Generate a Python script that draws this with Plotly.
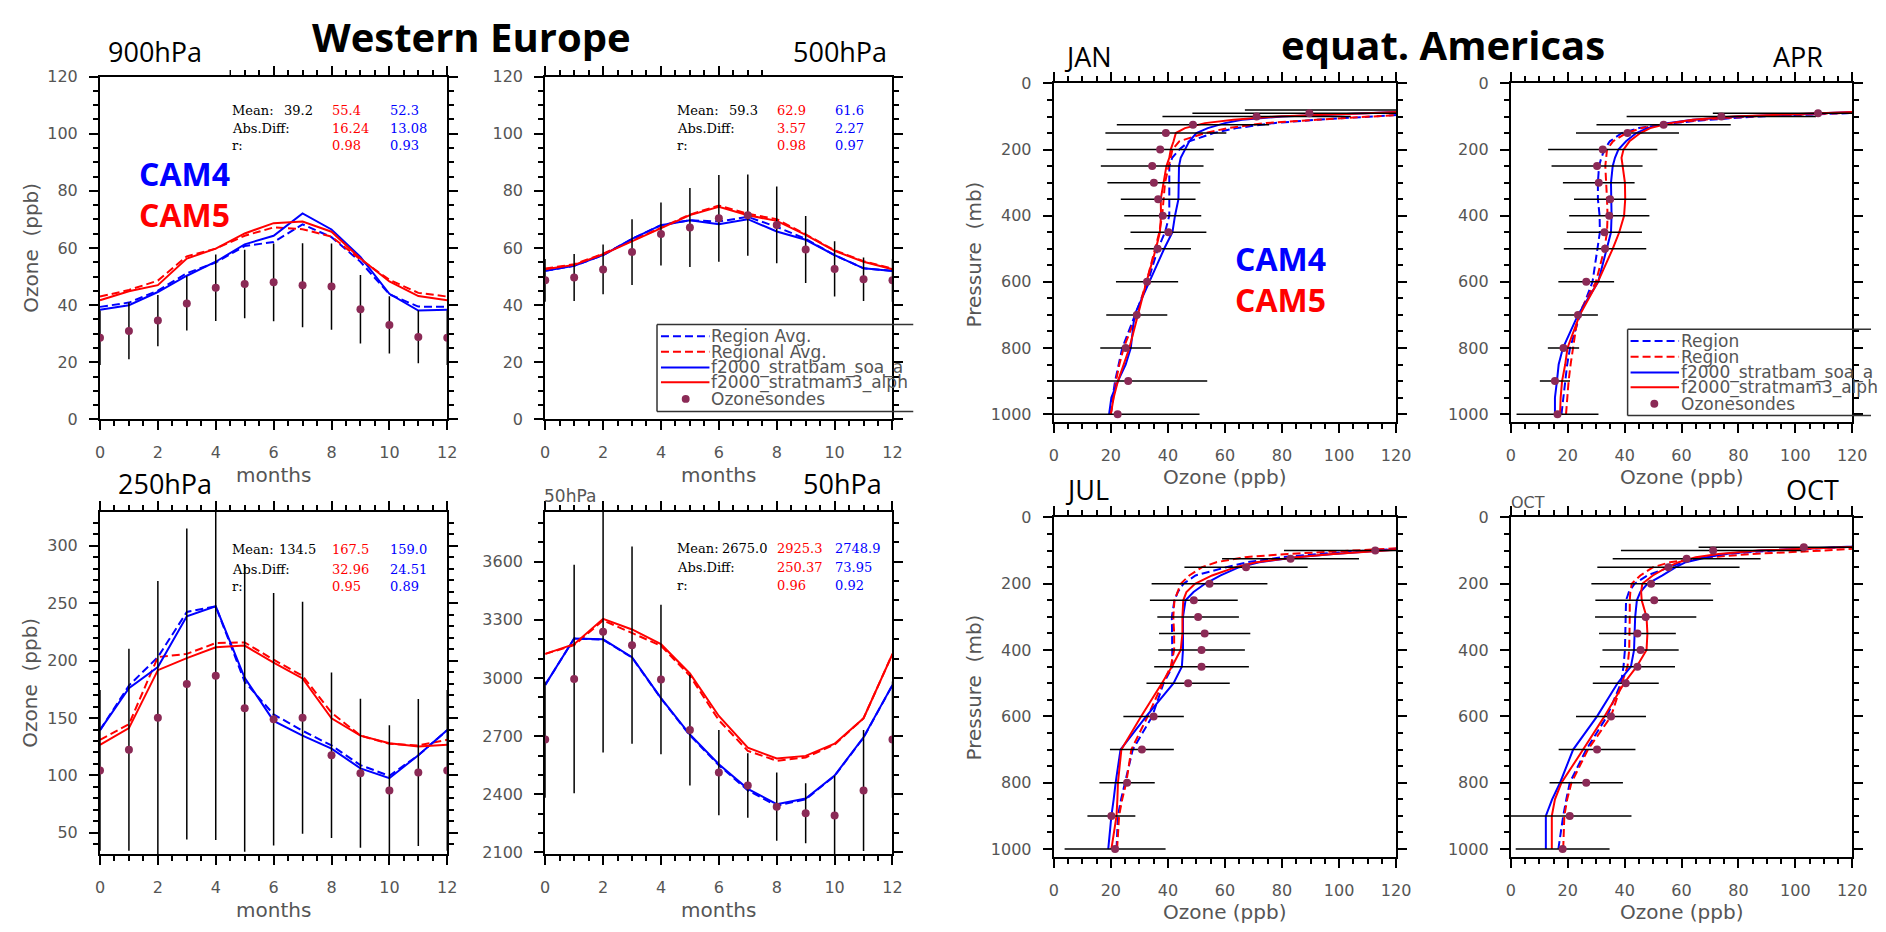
import plotly.graph_objects as go

W, H = 1886, 932

# ---------------- data: Western Europe monthly cycles ----------------
MONTHS = list(range(13))

O3_900_OBS = [28.6, 31.0, 34.6, 40.6, 46.1, 47.4, 48.0, 47.0, 46.5, 38.6, 33.1, 28.9, 28.6]
O3_900_SD = [9.5, 9.9, 9.0, 9.5, 11.6, 12.0, 13.6, 14.7, 15.1, 12.0, 10.0, 9.2, 9.5]
O3_900_CAM5 = [41.7, 44.9, 47.0, 56.3, 59.8, 65.1, 68.7, 69.3, 65.7, 56.3, 48.3, 43.2, 41.7]
O3_900_CAM5_REG = [43.0, 45.3, 48.6, 57.1, 59.8, 64.3, 67.2, 66.6, 64.0, 56.0, 48.9, 44.3, 43.0]
O3_900_CAM4 = [38.4, 40.0, 44.6, 50.3, 55.2, 61.3, 64.3, 72.1, 66.5, 56.9, 44.0, 38.1, 38.4]
O3_900_CAM4_REG = [39.4, 40.9, 45.1, 51.2, 54.9, 60.7, 62.1, 68.3, 63.8, 55.2, 43.8, 39.5, 39.4]

O3_500_OBS = [48.7, 49.7, 52.5, 58.6, 64.9, 67.2, 70.4, 71.5, 68.1, 59.5, 52.7, 49.1, 48.7]
O3_500_SD = [7.5, 8.2, 8.7, 11.5, 11.0, 13.8, 15.2, 14.2, 13.4, 11.7, 9.7, 7.6, 7.5]
O3_500_CAM5 = [52.6, 54.1, 57.8, 62.4, 67.0, 71.5, 74.4, 71.5, 69.5, 64.6, 59.0, 55.2, 52.6]
O3_500_CAM5_REG = [52.8, 54.3, 58.0, 62.6, 67.2, 71.7, 74.9, 72.0, 70.1, 64.8, 59.2, 55.4, 52.8]
O3_500_CAM4 = [52.0, 53.8, 57.5, 63.2, 68.0, 69.7, 68.3, 70.1, 65.8, 62.9, 57.5, 52.9, 52.0]
O3_500_CAM4_REG = [52.0, 53.8, 57.5, 63.2, 68.0, 69.7, 69.3, 70.9, 67.4, 63.2, 57.5, 52.9, 52.0]

O3_250_OBS = [104.4, 122.4, 150.3, 179.7, 186.8, 158.6, 148.9, 150.3, 117.6, 101.9, 86.8, 102.5, 104.4]
O3_250_SD = [70, 88, 119, 135.5, 143, 125, 110, 101, 72, 65, 57, 64, 70]
O3_250_CAM5 = [126.7, 141.2, 191.7, 202.2, 211.6, 213.1, 198.2, 184.5, 149.8, 134.7, 128.1, 125.3, 126.7]
O3_250_CAM5_REG = [131.0, 144.6, 203.1, 205.9, 215.3, 215.9, 200.8, 186.8, 154.6, 134.7, 127.5, 126.1, 131.0]
O3_250_CAM4 = [139.5, 176.0, 194.5, 238.7, 247.3, 185.1, 147.5, 134.7, 123.3, 106.2, 97.6, 117.6, 139.5]
O3_250_CAM4_REG = [139.5, 178.3, 203.1, 242.4, 247.3, 181.7, 153.2, 138.9, 126.1, 109.0, 99.6, 117.6, 139.5]

O3_50_OBS = [2682, 2994, 3238, 3169, 2992, 2731, 2512, 2445, 2336, 2302, 2290, 2420, 2682]
O3_50_SD = [300, 589, 623, 509, 385, 286, 220, 166, 176, 155, 205, 312, 300]
O3_50_CAM5 = [3124, 3174, 3305, 3250, 3174, 3023, 2804, 2640, 2585, 2598, 2661, 2792, 3124]
O3_50_CAM5_REG = [3124, 3169, 3297, 3233, 3166, 3011, 2782, 2624, 2573, 2590, 2656, 2792, 3124]
O3_50_CAM4 = [2964, 3203, 3199, 3107, 2896, 2708, 2555, 2428, 2349, 2378, 2497, 2694, 2964]
O3_50_CAM4_REG = [2964, 3203, 3197, 3105, 2894, 2704, 2550, 2420, 2341, 2374, 2495, 2692, 2964]

# statistics text (obs mean, CAM5, CAM4)
STAT_MEAN = [("39.2", "55.4", "52.3"), ("59.3", "62.9", "61.6"), ("134.5", "167.5", "159.0"), ("2675.0", "2925.3", "2748.9")]
STAT_ABSDIFF = [("16.24", "13.08"), ("3.57", "2.27"), ("32.96", "24.51"), ("250.37", "73.95")]
STAT_R = [("0.98", "0.93"), ("0.98", "0.97"), ("0.95", "0.89"), ("0.96", "0.92")]

# ---------------- data: equatorial Americas profiles ----------------
P_MODEL = [1000, 950, 900, 850, 800, 700, 600, 500, 450, 400, 350, 300, 250, 225, 200, 175, 150, 135, 120, 110, 100, 90, 80]

JAN_CAM4 = [19.4, 20.2, 22.5, 25.2, 27.0, 28.3, 33.5, 38.7, 41.6, 42.5, 43.7, 43.9, 43.9, 44.5, 46.0, 47.5, 50.0, 54, 60, 66, 80, 110, 140]
JAN_CAM4_REG = [20.0, 20.6, 21.5, 22.8, 24.0, 28.5, 33.0, 36.5, 39.0, 40.5, 40.5, 40.5, 40.5, 41.5, 44.0, 47.5, 56, 64, 77, 92, 113, 135, 150]
JAN_CAM5 = [20.0, 21.0, 22.5, 24.5, 26.5, 29.5, 32.5, 35.8, 37.2, 37.6, 37.5, 38.5, 39.5, 40.5, 41.0, 42.0, 42.8, 46, 53, 63, 78, 110, 140]
JAN_CAM5_REG = [20.0, 20.8, 21.8, 23.0, 24.5, 29.0, 32.5, 35.5, 37.0, 38.0, 38.5, 39.0, 40.3, 41.0, 41.6, 44.0, 53, 61, 74, 92, 117, 135, 150]

APR_CAM4 = [15.5, 15.5, 16.2, 16.8, 18.3, 23.6, 30.7, 33.8, 35.2, 35.4, 35.2, 35.2, 35.8, 36.6, 37.8, 40.5, 44.1, 48, 55, 64, 80, 112, 140]
APR_CAM4_REG = [17.8, 18.4, 19.0, 19.8, 20.8, 24.3, 28.7, 30.6, 31.3, 31.2, 30.6, 30.6, 31.0, 31.8, 32.9, 34.8, 39.0, 45, 57, 69, 87, 118, 140]
APR_CAM5 = [17.3, 17.5, 18.0, 19.1, 19.9, 24.2, 30.6, 35.8, 38.1, 39.8, 40.2, 40.1, 39.3, 38.9, 39.6, 41.7, 45.5, 49, 56, 64, 78, 110, 140]
APR_CAM5_REG = [19.4, 19.8, 20.3, 21.0, 21.8, 23.6, 29.9, 32.9, 33.8, 34.0, 33.8, 33.5, 33.2, 33.5, 33.8, 35.9, 40.6, 46, 56, 67, 84, 115, 140]

JUL_CAM4 = [19.1, 19.6, 20.2, 21.0, 21.7, 23.4, 32.4, 42.0, 44.9, 45.3, 45.3, 45.3, 46.2, 49, 53, 58.5, 65, 72, 85, 98, 115, 135, 150]
JUL_CAM4_REG = [22.0, 22.2, 22.5, 23.6, 24.9, 27.7, 34.5, 38.5, 41.6, 41.6, 41.6, 41.4, 42.3, 43.5, 45.5, 49.7, 60.5, 68, 80, 93, 110, 130, 150]
JUL_CAM5 = [20.2, 21.0, 22.0, 22.3, 22.5, 23.7, 30.6, 37.9, 41.4, 44.5, 45.1, 45.1, 45.4, 46.5, 49.5, 55.5, 63.8, 71, 85, 98, 116, 135, 150]
JUL_CAM5_REG = [22.2, 22.5, 22.9, 24.0, 25.4, 27.2, 32.9, 38.2, 41.0, 42.2, 42.2, 41.9, 42.3, 43.4, 44.5, 47.5, 52, 57, 67, 82, 110, 135, 150]

OCT_CAM4 = [12.3, 12.3, 12.3, 14.5, 17.3, 21.9, 30.3, 37.5, 42.2, 43.3, 43.6, 43.7, 44.3, 45.5, 48.0, 53.3, 58, 61.5, 69, 75, 88, 118, 140]
OCT_CAM4_REG = [16.7, 17.5, 18.4, 19.5, 20.7, 26.5, 33.8, 38.7, 39.6, 40.1, 40.2, 40.2, 40.5, 41.5, 43.5, 48, 56, 60.5, 68, 76, 92, 120, 140]
OCT_CAM5 = [14.4, 14.4, 14.4, 15.5, 17.8, 25.4, 32.9, 39.8, 44.2, 47.7, 48.0, 47.7, 46.0, 45.8, 46.2, 49.9, 55, 59, 65, 73, 87, 117, 140]
OCT_CAM5_REG = [18.4, 18.6, 18.8, 19.8, 21.3, 27.1, 35.2, 39.0, 41.0, 41.6, 41.8, 41.8, 41.8, 42.0, 42.5, 45.5, 50, 56, 70, 85, 110, 130, 145]

P_OBS = [80, 90, 100, 125, 150, 200, 250, 300, 350, 400, 450, 500, 600, 700, 800, 900, 1000]
JAN_OBS = [150, 89.6, 71.1, 48.8, 39.3, 37.3, 34.5, 35.1, 36.6, 38.2, 40.2, 36.4, 32.7, 29.1, 25.2, 26.1, 22.4]
JAN_SD = [83, 41, 33, 26.7, 21.2, 18.8, 18.0, 16.3, 13.1, 13.5, 13.3, 11.7, 10.9, 10.7, 8.9, 27.7, 28.7]
APR_OBS = [None, 108, 74.0, 53.7, 41.0, 32.3, 30.3, 30.9, 34.9, 34.6, 32.9, 33.1, 26.5, 23.6, 18.5, 15.5, 16.4]
APR_SD = [None, 37, 33.3, 23.6, 18.1, 19.2, 16.0, 12.6, 12.7, 14.1, 13.2, 14.5, 9.8, 7.0, 5.5, 5.3, 14.4]
JUL_OBS = [None, None, 112.7, 83.0, 67.4, 54.6, 49.1, 50.6, 52.9, 51.8, 51.8, 47.1, 35.0, 30.9, 25.7, 20.2, 21.5]
JUL_SD = [None, None, 32, 24, 21.6, 20.3, 15.4, 14.3, 16.0, 15.2, 16.6, 14.6, 10.6, 11.2, 9.7, 8.4, 17.7]
OCT_OBS = [None, 103.0, 71.1, 61.8, 55.4, 49.3, 50.4, 47.4, 44.5, 45.6, 44.5, 40.4, 35.2, 30.3, 26.5, 20.7, 18.2]
OCT_SD = [None, 37, 32.4, 26, 25, 21, 20.7, 17.8, 13.5, 13.4, 13.2, 11.6, 12.3, 13.5, 12.9, 21.7, 16.5]

LEGEND_WE = ["Region Avg.", "Regional Avg.", "f2000_stratbam_soa_a", "f2000_stratmam3_alph", "Ozonesondes"]
LEGEND_EA = ["Region", "Region", "f2000_stratbam_soa_a", "f2000_stratmam3_alph", "Ozonesondes"]

# ---------------- styling ----------------
BLUE = "#0000ff"
RED = "#ff0000"
DOT = "#8b2a56"
GRAY = "#555555"
DASH = "8px,4px"
TICKFONT = dict(family="DejaVu Sans", size=16, color=GRAY)

# panel boxes in pixels: (left, right, top, bottom)
BOXES = [
    (96, 447, 69, 419), (546, 897, 69, 419),
    (96, 447, 513, 863), (546, 897, 513, 863),
    (1060, 1406, 76, 422), (1522, 1867, 76, 422),
    (1060, 1406, 519, 866), (1522, 1867, 519, 866),
]


def fx(px):
    return px / W


def fy(py):
    return 1 - py / H


fig = go.Figure()


def axname(i, kind):
    return f"{kind}{'' if i == 0 else i + 1}"


def add_line(i, x, y, color, dash):
    fig.add_trace(go.Scatter(x=x, y=y, mode="lines", xaxis=axname(i, "x"), yaxis=axname(i, "y"),
                             line=dict(color=color, width=2, dash=dash), showlegend=False, hoverinfo="skip"))


monthly = [
    (O3_900_OBS, O3_900_SD, O3_900_CAM4_REG, O3_900_CAM5_REG, O3_900_CAM4, O3_900_CAM5),
    (O3_500_OBS, O3_500_SD, O3_500_CAM4_REG, O3_500_CAM5_REG, O3_500_CAM4, O3_500_CAM5),
    (O3_250_OBS, O3_250_SD, O3_250_CAM4_REG, O3_250_CAM5_REG, O3_250_CAM4, O3_250_CAM5),
    (O3_50_OBS, O3_50_SD, O3_50_CAM4_REG, O3_50_CAM5_REG, O3_50_CAM4, O3_50_CAM5),
]
for i, (obs, sd, c4r, c5r, c4, c5) in enumerate(monthly):
    add_line(i, MONTHS, c4r, BLUE, DASH)
    add_line(i, MONTHS, c5r, RED, DASH)
    add_line(i, MONTHS, c4, BLUE, "solid")
    add_line(i, MONTHS, c5, RED, "solid")
    fig.add_trace(go.Scatter(x=MONTHS, y=obs, mode="markers", xaxis=axname(i, "x"), yaxis=axname(i, "y"),
                             marker=dict(color=DOT, size=8),
                             error_y=dict(type="data", array=sd, symmetric=True, color="black", thickness=1.5, width=0),
                             showlegend=False, hoverinfo="skip"))

profiles = [
    (JAN_OBS, JAN_SD, JAN_CAM4_REG, JAN_CAM5_REG, JAN_CAM4, JAN_CAM5),
    (APR_OBS, APR_SD, APR_CAM4_REG, APR_CAM5_REG, APR_CAM4, APR_CAM5),
    (JUL_OBS, JUL_SD, JUL_CAM4_REG, JUL_CAM5_REG, JUL_CAM4, JUL_CAM5),
    (OCT_OBS, OCT_SD, OCT_CAM4_REG, OCT_CAM5_REG, OCT_CAM4, OCT_CAM5),
]
for k, (obs, sd, c4r, c5r, c4, c5) in enumerate(profiles):
    i = 4 + k
    add_line(i, c4r, P_MODEL, BLUE, DASH)
    add_line(i, c5r, P_MODEL, RED, DASH)
    add_line(i, c4, P_MODEL, BLUE, "solid")
    add_line(i, c5, P_MODEL, RED, "solid")
    keep = [j for j, v in enumerate(obs) if v is not None]
    fig.add_trace(go.Scatter(x=[obs[j] for j in keep], y=[P_OBS[j] for j in keep], mode="markers",
                             xaxis=axname(i, "x"), yaxis=axname(i, "y"),
                             marker=dict(color=DOT, size=8),
                             error_x=dict(type="data", array=[sd[j] for j in keep], symmetric=True,
                                          color="black", thickness=1.5, width=0),
                             showlegend=False, hoverinfo="skip"))


def axis(domain, rng, dtick, minor, autorange=None):
    d = dict(domain=domain, range=rng, dtick=dtick, tick0=0, showline=True, linecolor="black", linewidth=2,
             mirror="allticks", ticks="outside", ticklen=9, tickwidth=2, tickcolor="black",
             showgrid=False, zeroline=False, tickfont=TICKFONT, ticklabelstandoff=8,
             minor=dict(dtick=minor, tick0=0, ticks="outside", ticklen=5, tickwidth=1.5, tickcolor="black", showgrid=False))
    return d


Y_RANGES = [([0, 120], 20, 5), ([0, 120], 20, 5), ([31.2, 329.9], 50, 10), ([2090, 3858], 300, 100)]
layout = {}
for i, (l, r, t, b) in enumerate(BOXES):
    xd = [fx(l), fx(r)]
    yd = [fy(b), fy(t)]
    xa = "xaxis" if i == 0 else f"xaxis{i + 1}"
    ya = "yaxis" if i == 0 else f"yaxis{i + 1}"
    if i < 4:
        layout[xa] = axis(xd, [0, 12], 2, 0.5)
        rng, dt, mn = Y_RANGES[i]
        layout[ya] = axis(yd, rng, dt, mn)
    else:
        layout[xa] = axis(xd, [0, 120], 20, 5)
        layout[ya] = axis(yd, [1025, 0], 200, 50)
    layout[xa]["anchor"] = axname(i, "y")
    layout[ya]["anchor"] = axname(i, "x")
fig.update_layout(**layout)

ann = []


def text(s, px, py, size, color="black", family="Open Sans", xanchor="center", yanchor="middle", angle=0):
    ann.append(dict(text=s, x=fx(px), y=fy(py), xref="paper", yref="paper", showarrow=False,
                    xanchor=xanchor, yanchor=yanchor, textangle=angle,
                    font=dict(size=size, color=color, family=family)))


# main titles
text("<b>Western Europe</b>", 472, 28, 40)
text("<b>equat. Americas</b>", 1453, 36, 40)

# panel labels
for s, x, y in [("900hPa", 152, 43), ("500hPa", 844, 43), ("250hPa", 162, 484), ("50hPa", 846, 484),
                ("JAN", 1095, 48), ("APR", 1812, 48), ("JUL", 1094, 491), ("OCT", 1827, 490)]:
    text(s, x, y, 27)
text("50hPa", 543, 497, 17, GRAY, "DejaVu Sans", xanchor="left")
text("OCT", 1520, 504, 16, GRAY, "DejaVu Sans", xanchor="left")

# CAM labels
text("<b>CAM4</b>", 181, 168, 32, BLUE)
text("<b>CAM5</b>", 181, 210, 32, RED)
text("<b>CAM4</b>", 1289, 255, 32, BLUE)
text("<b>CAM5</b>", 1289, 297, 32, RED)

# statistics blocks
STAT_POS = [(227, 280, 328, 387, 104, 122, 139), (677, 730, 778, 837, 104, 122, 139),
            (227, 275, 328, 387, 552, 572, 590), (677, 723, 778, 837, 551, 570, 589)]
SERIF = "DejaVu Serif"
for k, (xl, xo, x5, x4, y1, y2, y3) in enumerate(STAT_POS):
    text("Mean:", xl, y1, 13, "black", SERIF, xanchor="left")
    text("Abs.Diff:", xl, y2, 13, "black", SERIF, xanchor="left")
    text("r:", xl, y3, 13, "black", SERIF, xanchor="left")
    text(STAT_MEAN[k][0], xo, y1, 13, "black", SERIF, xanchor="left")
    text(STAT_MEAN[k][1], x5, y1, 13, RED, SERIF, xanchor="left")
    text(STAT_MEAN[k][2], x4, y1, 13, BLUE, SERIF, xanchor="left")
    text(STAT_ABSDIFF[k][0], x5, y2, 13, RED, SERIF, xanchor="left")
    text(STAT_ABSDIFF[k][1], x4, y2, 13, BLUE, SERIF, xanchor="left")
    text(STAT_R[k][0], x5, y3, 13, RED, SERIF, xanchor="left")
    text(STAT_R[k][1], x4, y3, 13, BLUE, SERIF, xanchor="left")

# axis titles
for (l, r, t, b) in BOXES[:4]:
    text("months", (l + r) / 2, b + 57, 20, GRAY, "DejaVu Sans")
for (l, r, t, b) in BOXES[4:]:
    text("Ozone (ppb)", (l + r) / 2, b + 56, 20, GRAY, "DejaVu Sans")
text("Ozone  (ppb)", 26, 244, 20, GRAY, "DejaVu Sans", angle=-90)
text("Ozone  (ppb)", 25, 688, 20, GRAY, "DejaVu Sans", angle=-90)
text("Pressure  (mb)", 979, 251, 20, GRAY, "DejaVu Sans", angle=-90)
text("Pressure  (mb)", 979, 693, 20, GRAY, "DejaVu Sans", angle=-90)

shapes = []
# white patches that hide part of the top tick marks (as in the original composite)
for x0, x1 in [(86, 227), (777, 912)]:
    shapes.append(dict(type="rect", xref="paper", yref="paper", x0=fx(x0), x1=fx(x1), y0=fy(67.5), y1=fy(55),
                       fillcolor="white", line=dict(width=0), layer="above"))

# hand-drawn legends
LEG_STYLES = [(BLUE, DASH), (RED, DASH), (BLUE, "solid"), (RED, "solid")]
for labels, bx, btop, bbot, bright, lx0, lx1, rows, mx in [
    (LEGEND_WE, 659, 322, 411, 918, 663, 712, [334, 350, 366, 381, 398], 688),
    (LEGEND_EA, 1640, 327, 415, 1886, 1643, 1692, [339, 355, 371, 386, 403], 1667),
]:
    for y in (btop, bbot):
        shapes.append(dict(type="line", xref="paper", yref="paper", x0=fx(bx), x1=fx(bright), y0=fy(y), y1=fy(y),
                           line=dict(color="#333333", width=1.5), layer="above"))
    shapes.append(dict(type="line", xref="paper", yref="paper", x0=fx(bx), x1=fx(bx), y0=fy(btop), y1=fy(bbot),
                       line=dict(color="#333333", width=1.5), layer="above"))
    for j, (c, d) in enumerate(LEG_STYLES):
        shapes.append(dict(type="line", xref="paper", yref="paper", x0=fx(lx0), x1=fx(lx1), y0=fy(rows[j]), y1=fy(rows[j]),
                           line=dict(color=c, width=2, dash=d), layer="above"))
    shapes.append(dict(type="circle", xref="paper", yref="paper", x0=fx(mx - 4), x1=fx(mx + 4),
                       y0=fy(rows[4] + 4), y1=fy(rows[4] - 4), fillcolor=DOT, line=dict(width=0), layer="above"))
    for j, s in enumerate(labels):
        text(s, lx1, rows[j], 17, GRAY, "DejaVu Sans", xanchor="left")

fig.update_layout(width=W, height=H, margin=dict(l=0, r=0, t=0, b=0), paper_bgcolor="white",
                  plot_bgcolor="white", showlegend=False, annotations=ann, shapes=shapes)
fig.write_html("out.html")
